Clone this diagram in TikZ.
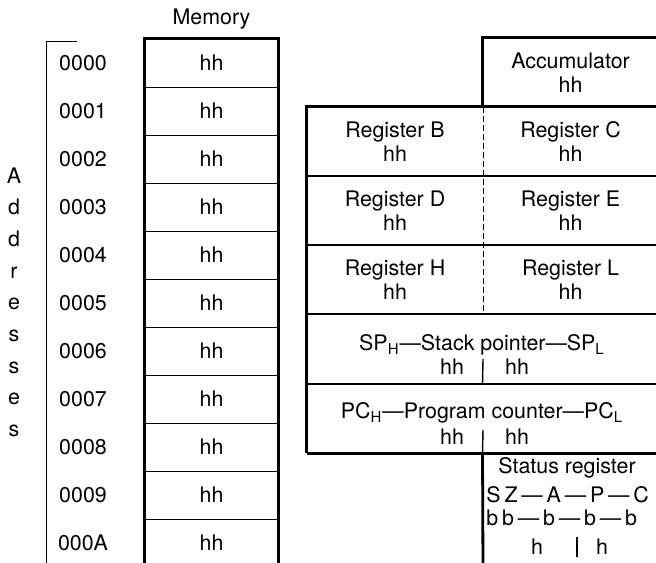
\documentclass[tikz,border=0pt]{standalone}
\usepackage{fontspec}
\setmainfont{TeX Gyre Heros}
\usetikzlibrary{positioning}
\newcommand{\tightsp}{\spaceskip=0.18em\relax}

\begin{document}
\begin{tikzpicture}[
    x=0.5pt, y=-0.5pt,
    every node/.style={font=\fontsize{10.7}{11.7}\selectfont, inner sep=0pt},
    tight/.style={font={\fontsize{10.7}{11.7}\selectfont\tightsp}},
    cell/.style={minimum width=66.5pt, minimum height=24pt},
    reg/.style={align=center, minimum width=88pt, minimum height=34.5pt},
    wide/.style={minimum width=175.5pt, minimum height=34.75pt},
    frame/.style={line width=1.4pt},
    sep/.style={line width=1pt},
    thinsep/.style={line width=0.65pt},
    divider/.style={line width=0.6pt, dash pattern=on 3pt off 1.5pt},
    bar/.style={line width=0.7pt}
]
\useasboundingbox (0,0) rectangle (656,562);
\clip (0,0) rectangle (656,562);

\foreach \c [count=\i from 0] in {A,d,d,r,e,s,s,e,s}
    \node[anchor=base] (addrchar\i) at (14,{183+31.7*\i}) {\c};
\coordinate (addrtop) at (46,41);
\coordinate (addrtick) at (77,41);
\coordinate (addrbot) at (46,570);
\draw[line width=0.5pt] (addrtick) -- (addrtop) -- (addrbot);

\foreach \a [count=\i from 0] in {0000,0001,0002,0003,0004,0005,0006,0007,0008,0009,000A} {
    \node[cell] (m\i) at (211.5,{63+48*\i}) {hh};
    \node (addr\i) at (83,{63+48*\i}) {\a};
}
\node[above=4.5pt of m0] (memlabel) {Memory};
\foreach \i in {0,...,9}
    \draw[thinsep] (m\i.south west) -- (m\i.south east);
\draw[frame] (m10.south west) -- (m0.north west) -- (m0.north east) -- (m10.south east);

\node[reg, minimum height=34.5pt] (acc) at (570.5,72.5) {Accumulator\\hh};
\node[reg] (regB) at (395,141.5) {Register B\\hh};
\node[reg] (regC) at (570.5,141.5) {Register C\\hh};
\node[reg] (regD) at (395,210.5) {Register D\\hh};
\node[reg] (regE) at (570.5,210.5) {Register E\\hh};
\node[reg] (regH) at (395,279.5) {Register H\\hh};
\node[reg] (regL) at (570.5,279.5) {Register L\\hh};
\node[wide] (sp) at (482.5,348.5) {};
\node[wide] (pc) at (482.5,418) {};
\node (sptext) at (482,345) {SP\textsubscript{H}—Stack pointer—SP\textsubscript{L}};
\node (sphi) at (452,367) {hh};
\node (splo) at (517,367) {hh};
\node (pctext) at (482,413) {PC\textsubscript{H}—Program counter—PC\textsubscript{L}};
\node (pchi) at (452,437) {hh};
\node (pclo) at (517,437) {hh};
\coordinate (spbar) at (483,359);
\coordinate (pcbar) at (483,430);

\node (stat) at (567,468) {Status register};
\node[tight, anchor=west] (statflags) at (486,495) {S Z — A — P — C};
\node[tight, anchor=west] (statbits) at (486,518) {b b — b — b — b};
\node (stathi) at (537,547) {h};
\node (statlo) at (602,547) {h};
\coordinate (statbartop) at (577,537);
\coordinate (statbarbot) at (577,557);
\coordinate (statbot) at (483,570);

\draw[frame] (acc.south west) -- (acc.north west) -- (acc.north east);
\draw[frame] (pc.south west) -- (regB.north west) -- (regC.north east);
\draw[sep] (regB.south west) -- (regC.south east);
\draw[sep] (regD.south west) -- (regE.south east);
\draw[sep] (regH.south west) -- (regL.south east);
\draw[sep] (sp.south west) -- (sp.south east);
\draw[frame] (pc.south west) -- (pc.south east);
\draw[divider] (regB.north east) -- (regH.south east);
\draw[bar] (spbar) -- (sp.south);
\draw[bar] (pcbar) -- (pc.south);
\draw[frame] (pc.south) -- (statbot);
\draw[bar] (statbartop) -- (statbarbot);
\end{tikzpicture}
\end{document}
